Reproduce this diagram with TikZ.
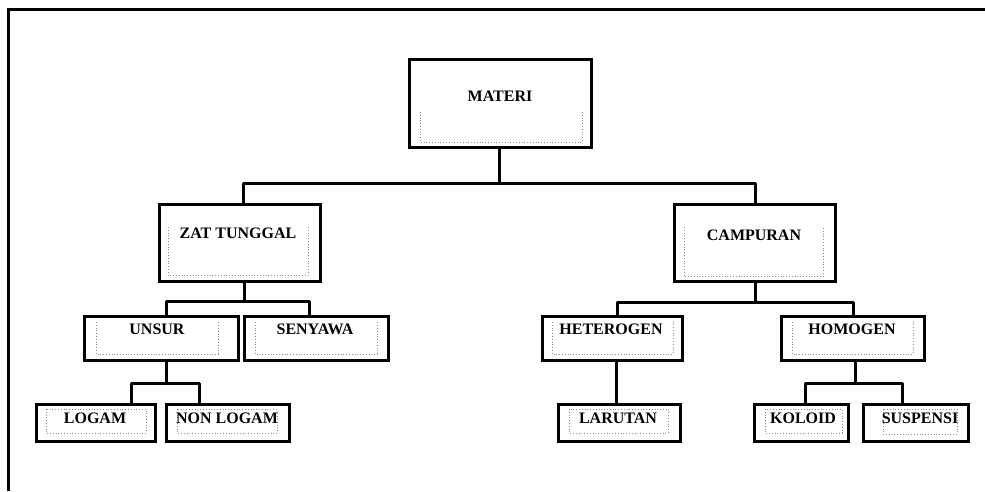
\documentclass[tikz,border=0pt]{standalone}
\usepackage{fontspec}
\setmainfont{Liberation Serif}
\begin{document}
\begin{tikzpicture}[x=1pt,y=-1pt,
  outer/.style={draw=black,line width=3.2pt,rectangle,inner sep=0pt,fill=white},
  conn/.style={draw=black,line width=3pt,line join=round},
  innerd/.style={draw=black!45,dotted,line width=0.8pt},
  lbl/.style={font=\fontsize{16}{18}\selectfont\bfseries,anchor=base,inner sep=0pt,text=black}]
\useasboundingbox (0,0) rectangle (985,491);
\fill[white] (0,0) rectangle (985,491);
\draw[line width=3pt] (8,491) -- (8,9) -- (985,9);

% outer boxes
\node[outer,minimum width=182pt,minimum height=88pt] (materi) at (500.5,103.5) {};
\node[outer,minimum width=161pt,minimum height=77pt] (zat) at (240,243) {};
\node[outer,minimum width=161pt,minimum height=77pt] (camp) at (755,243) {};
\node[outer,minimum width=154pt,minimum height=44pt] (unsur) at (161.5,338.5) {};
\node[outer,minimum width=144pt,minimum height=44pt] (senyawa) at (316.5,338.5) {};
\node[outer,minimum width=140pt,minimum height=44pt] (hetero) at (612.5,338.5) {};
\node[outer,minimum width=143pt,minimum height=44pt] (homo) at (853,338.5) {};
\node[outer,minimum width=119pt,minimum height=37pt] (logam) at (96,423) {};
\node[outer,minimum width=123pt,minimum height=37pt] (nonlogam) at (228,423) {};
\node[outer,minimum width=122pt,minimum height=37pt] (larutan) at (619.5,423) {};
\node[outer,minimum width=94pt,minimum height=37pt] (koloid) at (801.5,423) {};
\node[outer,minimum width=105pt,minimum height=37pt] (suspensi) at (916,423) {};

% inner dotted frames (open at top)
\draw[innerd] (420,112) -- (420,142) -- (582,142) -- (582,112);
\draw[innerd] (168,227) -- (168,275) -- (308,275) -- (308,227);
\draw[innerd] (684,227) -- (684,276) -- (823,276) -- (823,227);
\draw[innerd] (96,322) -- (96,354) -- (218,354) -- (218,322);
\draw[innerd] (255,322) -- (255,354) -- (377,354) -- (377,322);
\draw[innerd] (552,322) -- (552,354) -- (673,354) -- (673,322);
\draw[innerd] (792,322) -- (792,354) -- (913,354) -- (913,322);
% inner dotted frames (closed)
\draw[innerd] (46,409) rectangle (146,433);
\draw[innerd] (177,409) rectangle (277,433);
\draw[innerd] (569,409) rectangle (668,433);
\draw[innerd] (765,409) rectangle (842,433);
\draw[innerd] (883,409) rectangle (957,434);

% labels
\node[lbl] (tmateri) at (500,101) {MATERI};
\node[lbl] (tzat) at (238,238.5) {ZAT TUNGGAL};
\node[lbl] (tcamp) at (754,240.5) {CAMPURAN};
\node[lbl] (tunsur) at (157,334.5) {UNSUR};
\node[lbl] (tsenyawa) at (315,334.5) {SENYAWA};
\node[lbl] (thetero) at (611,334.5) {HETEROGEN};
\node[lbl] (thomo) at (852,334.5) {HOMOGEN};
\node[lbl] (tlogam) at (95,423.5) {LOGAM};
\node[lbl] (tnonlogam) at (227,423.5) {NON LOGAM};
\node[lbl] (tlarutan) at (618,423.5) {LARUTAN};
\node[lbl] (tkoloid) at (803,423.5) {KOLOID};
\node[lbl] (tsuspensi) at (920,423.5) {SUSPENSI};

% junctions
\coordinate (j1) at (499,183);
\coordinate (j2) at (244,301);
\coordinate (j3) at (755,302);
\coordinate (j4) at (166,383);
\coordinate (j5) at (855,383);

% connectors
\draw[conn] (materi.south -| j1) -- (j1);
\draw[conn] ([xshift=3pt]zat.north) |- (j1) -| (camp.north);
\draw[conn] (zat.south -| j2) -- (j2);
\draw[conn] ([xshift=4.5pt]unsur.north) |- (j2) -| ([xshift=-7.5pt]senyawa.north);
\draw[conn] (camp.south) -- (j3);
\draw[conn] ([xshift=4.5pt]hetero.north) |- (j3) -| (homo.north);
\draw[conn] (unsur.south -| j4) -- (j4);
\draw[conn] ([xshift=35pt]logam.north) |- (j4) -| ([xshift=-29pt]nonlogam.north);
\draw[conn] ([xshift=3.5pt]hetero.south) -- ([xshift=-3.5pt]larutan.north);
\draw[conn] ([xshift=2pt]homo.south) -- (j5);
\draw[conn] ([xshift=3.5pt]koloid.north) |- (j5) -| ([xshift=-14pt]suspensi.north);
\end{tikzpicture}
\end{document}
